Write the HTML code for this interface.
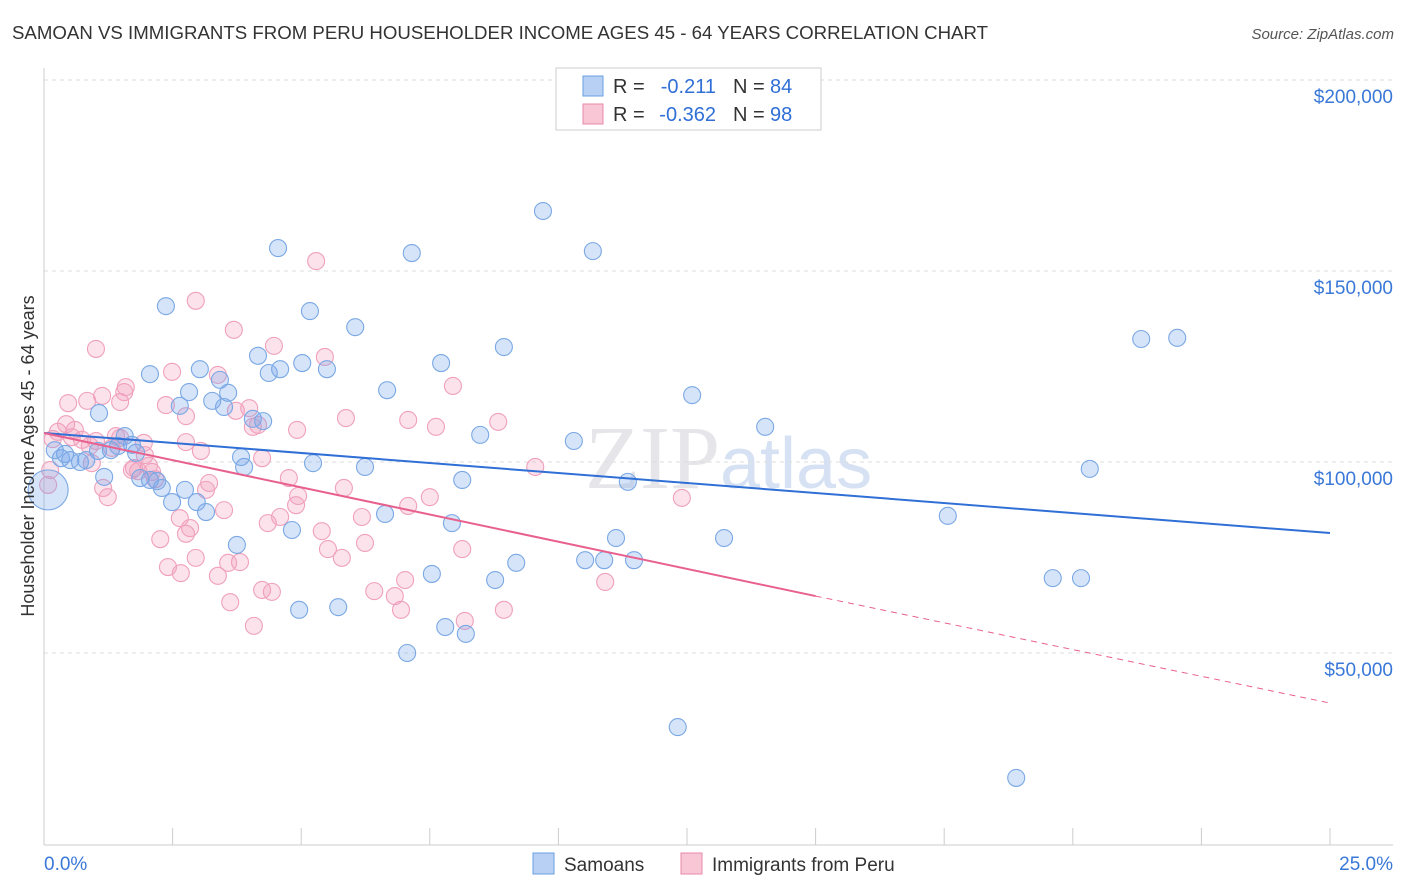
<!DOCTYPE html>
<html><head><meta charset="utf-8">
<style>
body{margin:0;background:#fff;font-family:"Liberation Sans",sans-serif;}
svg{display:block}
</style></head>
<body>
<svg id="chart" width="1406" height="892" viewBox="0 0 1406 892" xmlns="http://www.w3.org/2000/svg">
<text x="12" y="39" font-size="18.6" fill="#333" textLength="976" lengthAdjust="spacingAndGlyphs">SAMOAN VS IMMIGRANTS FROM PERU HOUSEHOLDER INCOME AGES 45 - 64 YEARS CORRELATION CHART</text>
<text x="1394" y="39" font-size="15" fill="#555" font-style="italic" text-anchor="end">Source: ZipAtlas.com</text>
<text x="720" y="488" font-size="90" fill="#e6e6ea" font-family="Liberation Serif,serif" text-anchor="end">ZIP</text>
<text x="720" y="488" font-size="72" fill="#d6e2f3">atlas</text>
<g id="grid"></g>
<g id="axes"></g>
<g id="pts"></g>
<g id="trends"></g>
<text transform="translate(34,456) rotate(-90)" font-size="18" fill="#333" text-anchor="middle">Householder Income Ages 45 - 64 years</text>
<g>
<rect x="556" y="68" width="265" height="62" fill="#fff" stroke="#ccc"/>
<rect x="583" y="76" width="20" height="20" fill="#b8d0f4" stroke="#6a9fe0"/>
<rect x="583" y="104" width="20" height="20" fill="#f9c6d6" stroke="#e88aaa"/>
<text x="613" y="93" font-size="20" fill="#333">R =</text>
<text x="716" y="93" font-size="20" fill="#2f6fd6" text-anchor="end">-0.211</text>
<text x="733" y="93" font-size="20" fill="#333">N =</text>
<text x="770" y="93" font-size="20" fill="#2f6fd6">84</text>
<text x="613" y="121" font-size="20" fill="#333">R =</text>
<text x="716" y="121" font-size="20" fill="#2f6fd6" text-anchor="end">-0.362</text>
<text x="733" y="121" font-size="20" fill="#333">N =</text>
<text x="770" y="121" font-size="20" fill="#2f6fd6">98</text>
</g>
<g>
<rect x="533" y="853" width="21" height="21" fill="#b8d0f4" stroke="#6a9fe0"/>
<text x="564" y="871" font-size="19" fill="#333">Samoans</text>
<rect x="681" y="853" width="21" height="21" fill="#f9c6d6" stroke="#e88aaa"/>
<text x="712" y="871" font-size="19" fill="#333">Immigrants from Peru</text>
</g>
</svg>
<script>
const blueX=[1.07,2.06,2.37,2.64,2.82,3.03,3.27,3.42,3.50,3.58,4.06,4.26,4.16,4.37,4.55,4.59,5.02,5.17,5.50,6.05,6.67,7.15,7.72,8.94,9.70,10.67,12.60,14.02,21.33,22.03,20.33,17.57,19.61,20.16,13.22,12.32,18.90,10.30,11.35,11.12,10.52,10.89,11.47,9.18,8.77,8.48,8.13,7.93,7.80,8.20,7.54,7.06,6.63,6.24,5.72,5.23,4.96,4.82,3.89,3.83,3.75,3.15,2.97,2.74,2.49,2.29,2.20,1.87,1.79,1.71,1.57,1.44,1.30,1.05,0.82,0.70,0.51,0.41,0.33,0.21,0.08,1.17,2.06];
const blueY=[112.8,123.0,140.8,114.7,118.3,124.3,116.0,121.5,114.4,118.1,111.3,110.7,127.8,123.3,156.0,124.3,125.9,139.5,124.3,135.3,118.8,154.7,125.9,130.1,165.7,155.2,117.5,109.2,132.2,132.5,98.2,85.9,69.6,69.6,80.1,30.6,17.3,105.5,94.8,80.1,74.3,74.3,74.3,73.6,69.1,107.1,95.3,84.0,56.8,55.0,70.7,50.0,86.4,98.7,62.0,99.7,61.3,82.2,98.7,101.3,78.3,86.9,89.5,92.7,89.5,93.2,95.0,95.8,102.4,104.5,106.8,104.2,103.1,102.9,100.5,100.0,100.5,102.1,101.0,103.1,92.7,96.1,95.3];
const pinkX=[1.01,0.47,0.84,1.13,1.48,1.59,1.56,2.37,2.49,2.76,2.95,3.69,4.47,5.29,5.46,4.92,3.99,4.16,3.38,3.73,4.06,5.87,7.08,7.62,7.95,8.83,9.55,12.40,10.91,8.94,8.18,8.13,7.50,7.08,6.94,6.82,7.02,6.42,6.24,6.18,5.83,5.52,5.79,5.40,4.94,4.90,4.76,4.59,4.35,4.43,4.24,4.08,3.81,3.62,3.38,3.50,3.21,3.15,3.05,2.76,2.84,2.76,2.66,2.41,2.26,2.64,2.95,2.16,2.10,2.04,1.94,1.96,1.83,1.75,1.48,1.32,1.24,1.15,0.93,0.89,0.74,0.54,0.60,0.43,0.27,0.17,0.12,0.08,1.01,1.40,1.71,4.24,3.58];
const pinkY=[129.6,115.4,116.0,117.3,115.7,119.6,118.3,114.9,123.6,112.0,142.2,134.6,130.4,152.6,127.5,108.4,114.1,109.7,122.8,113.4,109.2,111.5,111.0,109.2,119.9,110.5,98.7,90.6,68.6,61.3,58.4,77.2,90.8,88.5,61.3,64.9,69.1,66.2,78.8,85.6,93.2,77.2,74.9,81.9,91.1,88.7,95.8,85.6,84.0,66.0,66.5,57.1,73.8,63.3,70.2,87.4,94.5,92.7,102.9,105.2,82.7,81.2,70.9,72.5,79.8,85.3,74.9,95.5,97.4,99.0,105.0,101.8,97.6,98.4,106.3,103.7,90.8,93.2,99.7,104.2,105.8,106.5,108.4,109.9,107.9,106.0,97.9,94.0,105.5,106.8,97.9,101.0,73.6];
const yTicks=[50,100,150,200];
const yTickLabels=["$50,000","$100,000","$150,000","$200,000"];
const blueTrend=[[0,107.6],[25,81.4]];
const pinkTrend=[[0,107.6],[15,64.9],[25,36.9]];

const NS="http://www.w3.org/2000/svg";
const sx=v=>44+v/25*1286;
const sy=v=>462-(v-100)*191/50;
function mk(tag,attrs,parent){const e=document.createElementNS(NS,tag);for(const k in attrs)e.setAttribute(k,attrs[k]);document.getElementById(parent).appendChild(e);return e;}

yTicks.forEach((t,i)=>{
  const l=mk('line',{x1:44,x2:1393,y1:sy(t),y2:sy(t),stroke:'#ddd','stroke-dasharray':'4,4'},'grid');
  
  
  const tx=mk('text',{x:1393,y:sy(t)+23,'font-size':19,fill:'#3a78d8','text-anchor':'end'},'grid');
  tx.textContent=yTickLabels[i];
  
  
});
const ax=mk('line',{x1:44,x2:44,y1:68,y2:845,stroke:'#ccc'},'axes');


const bx=mk('line',{x1:44,x2:1393,y1:845,y2:845,stroke:'#ccc'},'axes');


for(let i=1;i<=10;i++){
  const t=mk('line',{x1:sx(i*2.5),x2:sx(i*2.5),y1:828,y2:845,stroke:'#ccc'},'axes');
  
  
}
const x0=mk('text',{x:44,y:870,'font-size':19,fill:'#3a78d8'},'axes');x0.textContent='0.0%';


const x1=mk('text',{x:1393,y:870,'font-size':19,fill:'#3a78d8','text-anchor':'end'},'axes');x1.textContent='25.0%';



pinkX.forEach((x,i)=>{
  const c=mk('circle',{cx:sx(x),cy:sy(pinkY[i]),r:8.5,fill:'rgba(243,160,190,0.3)',stroke:'#f0a0bc','stroke-width':1.1},'pts');
  
  
});
blueX.forEach((x,i)=>{
  const r=(i==80)?20:8.5;
  const c=mk('circle',{cx:sx(x),cy:sy(blueY[i]),r:r,fill:'rgba(120,165,235,0.3)',stroke:'#7aa8e4','stroke-width':1.1},'pts');
  
  
});
const bl=mk('line',{x1:sx(blueTrend[0][0]),y1:sy(blueTrend[0][1]),x2:sx(blueTrend[1][0]),y2:sy(blueTrend[1][1]),stroke:'#2f6fd6','stroke-width':2},'trends');


const pl=mk('line',{x1:sx(pinkTrend[0][0]),y1:sy(pinkTrend[0][1]),x2:sx(pinkTrend[1][0]),y2:sy(pinkTrend[1][1]),stroke:'#e8608e','stroke-width':2},'trends');


const pd=mk('line',{x1:sx(pinkTrend[1][0]),y1:sy(pinkTrend[1][1]),x2:sx(pinkTrend[2][0]),y2:sy(pinkTrend[2][1]),stroke:'#e8608e','stroke-width':1,'stroke-dasharray':'6,5'},'trends');


</script>
</body></html>
